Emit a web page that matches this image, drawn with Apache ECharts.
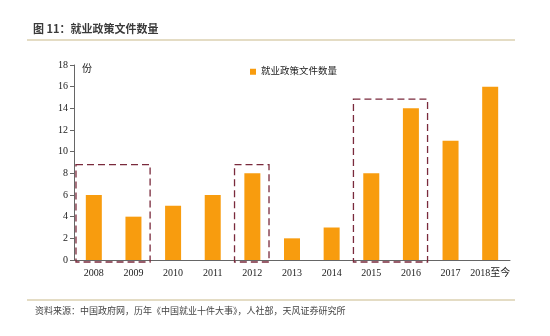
<!DOCTYPE html>
<html><head><meta charset="utf-8">
<script src="https://cdn.jsdelivr.net/npm/echarts@6/dist/echarts.min.js"></script>
<style>html,body{margin:0;padding:0;background:#fff}#c{width:550px;height:336px}</style>
</head><body><div id="c"></div>
<script>
const categories = ['2008','2009','2010','2011','2012','2013','2014','2015','2016','2017','2018至今'];
const values = [6,4,5,6,8,2,3,8,14,11,16];
const yTicks = {min:0, max:18, interval:2};
const seriesName = '就业政策文件数量';
const titleText = '图 11：就业政策文件数量';
const sourceText = '资料来源：中国政府网，历年《中国就业十件大事》，人社部，天风证券研究所';
const unitText = '份';
// highlighted groups: [first category, last category, top value]
const boxes = [['2008','2009',8.8],['2012','2012',8.8],['2015','2016',14.85]];

const chart = echarts.init(document.getElementById('c'), null, {renderer:'canvas'});
const serif = '"Liberation Serif","Noto Sans CJK SC",serif';
const option = {
  animation:false,
  backgroundColor:'#fff',
  grid:{left:74, right:40, top:65, bottom:76},
  legend:{data:[seriesName], left:245, top:62, icon:'rect', itemWidth:6, itemHeight:6, itemGap:3,
    textStyle:{fontFamily:serif, fontSize:9.5, color:'#222'}},
  xAxis:{type:'category', data:categories,
    axisLine:{lineStyle:{color:'#666', width:1}}, axisTick:{show:false},
    axisLabel:{fontFamily:serif, fontSize:10, color:'#222', margin:8, interval:0}},
  yAxis:{type:'value', min:yTicks.min, max:yTicks.max, interval:yTicks.interval,
    name:unitText, nameLocation:'end', nameGap:-9,
    nameTextStyle:{fontFamily:serif, fontSize:10, color:'#222', align:'left', padding:[0,0,0,8]},
    splitLine:{show:false},
    axisLine:{show:true, lineStyle:{color:'#666'}}, axisTick:{show:true, length:4, lineStyle:{color:'#666'}},
    axisLabel:{fontFamily:serif, fontSize:10, color:'#222', margin:6}},
  series:[{name:seriesName, type:'bar', data:values, barWidth:16, itemStyle:{color:'#f89c0e'}}],
  graphic:[
    {type:'text', left:33, top:23, style:{text:titleText, font:'bold 11px "Noto Sans CJK SC",sans-serif', fill:'#3a3a3a'}},
    {type:'line', shape:{x1:27,y1:40,x2:515,y2:40}, style:{stroke:'#c9b98a', lineWidth:1.2}},
    {type:'line', shape:{x1:27,y1:300,x2:515,y2:300}, style:{stroke:'#c9b98a', lineWidth:1.2}},
    {type:'text', left:35, top:306, style:{text:sourceText, font:'9px "Noto Sans CJK SC",sans-serif', fill:'#444'}}
  ]
};
chart.setOption(option);
const band = chart.convertToPixel({xAxisIndex:0}, categories[1]) - chart.convertToPixel({xAxisIndex:0}, categories[0]);
const y0 = chart.convertToPixel({yAxisIndex:0}, 0);
const rects = boxes.map((b,i)=>{
  const xa = chart.convertToPixel({xAxisIndex:0}, b[0]) - band*0.45;
  const xb = chart.convertToPixel({xAxisIndex:0}, b[1]) + band*0.42;
  const yt = chart.convertToPixel({yAxisIndex:0}, b[2]);
  return {type:'rect', id:'box'+i, z:10, shape:{x:xa, y:yt, width:xb-xa, height:y0+2-yt},
    style:{fill:'none', stroke:'#7a2a3c', lineWidth:1.3, lineDash:[7,4]}};
});
chart.setOption({graphic: option.graphic.concat(rects)});
</script></body></html>
